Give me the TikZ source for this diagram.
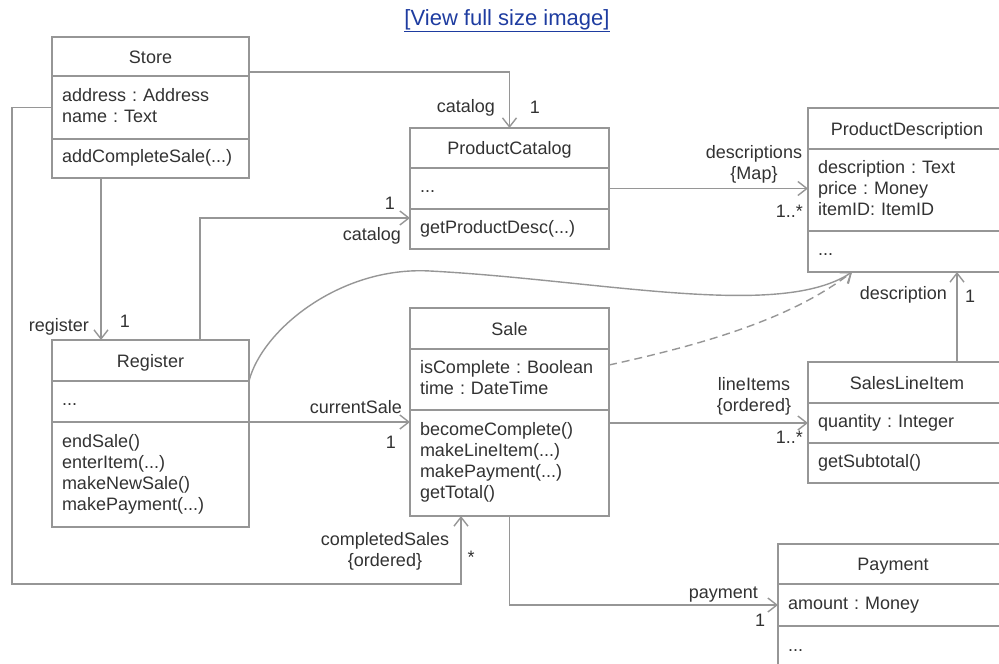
\documentclass[tikz,border=0pt]{standalone}
\usepackage{fontspec}
\setmainfont{Liberation Sans}
\usepackage{xcolor}
\usepackage{tikz}
\usetikzlibrary{arrows.meta, calc}

\definecolor{linegray}{RGB}{150,150,150}
\definecolor{inkgray}{RGB}{50,50,50}
\definecolor{linkblue}{RGB}{30,60,160}
\newcommand{\umlfont}{\fontsize{18}{21}\selectfont}
\frenchspacing

\begin{document}
\begin{tikzpicture}[
    x=1pt, y=-1pt,
    clsname/.style={draw=linegray, line width=1.4pt, outer sep=0pt, anchor=north west, minimum width=197pt, minimum height=40pt, inner xsep=10pt, inner ysep=0pt, text height=13pt, text depth=0pt, font=\umlfont, text=inkgray},
    clsbody/.style={draw=linegray, line width=1.4pt, outer sep=0pt, anchor=north west, text width=177pt, inner xsep=10pt, inner ysep=0pt, align=left, font=\umlfont, text=inkgray, execute at begin node=\strut, execute at end node=\strut},
    assoc/.style={-{Straight Barb[length=9pt,width=14pt]}, line width=1.4pt, linegray},
    depline/.style={assoc, dash pattern=on 8pt off 5pt},
    lbl/.style={font=\umlfont, text=inkgray, inner sep=0pt, align=center}
]
\useasboundingbox (0,0) rectangle (999,664);
\clip (0,0) rectangle (999,664);

\node[font=\fontsize{22}{26}\selectfont, text=linkblue, inner sep=0pt] (viewlink) at (507,21) {\underline{[View full size image]}};

% classes
\node[clsname, minimum height=39pt] (store) at (52,37) {Store};
\node[clsbody, minimum height=63pt] (store-a) at (store.south west) {address : Address\\name : Text};
\node[clsbody, minimum height=39pt] (store-m) at (store-a.south west) {addCompleteSale(...)};

\node[clsname, minimum height=41pt] (reg) at (52,340) {Register};
\node[clsbody, minimum height=41pt] (reg-a) at (reg.south west) {...};
\node[clsbody, minimum height=105pt] (reg-m) at (reg-a.south west) {endSale()\\enterItem(...)\\makeNewSale()\\makePayment(...)};

\node[clsname, minimum width=199pt] (pc) at (410,128) {ProductCatalog};
\node[clsbody, text width=179pt, minimum height=41pt] (pc-a) at (pc.south west) {...};
\node[clsbody, text width=179pt, minimum height=40pt] (pc-m) at (pc-a.south west) {getProductDesc(...)};

\node[clsname, minimum width=199pt, minimum height=41pt] (sale) at (410,308) {Sale};
\node[clsbody, text width=179pt, minimum height=61pt] (sale-a) at (sale.south west) {isComplete : Boolean\\time : DateTime};
\node[clsbody, text width=179pt, minimum height=106pt] (sale-m) at (sale-a.south west) {becomeComplete()\\makeLineItem(...)\\makePayment(...)\\getTotal()};

\node[clsname, minimum width=198pt, minimum height=41pt] (pd) at (808,108) {ProductDescription};
\node[clsbody, text width=178pt, minimum height=82pt] (pd-a) at (pd.south west) {description : Text\\price : Money\\itemID: ItemID};
\node[clsbody, text width=178pt, minimum height=41pt] (pd-m) at (pd-a.south west) {...};

\node[clsname, minimum width=198pt, minimum height=41pt] (sli) at (808,362) {SalesLineItem};
\node[clsbody, text width=178pt, minimum height=40pt] (sli-a) at (sli.south west) {quantity : Integer};
\node[clsbody, text width=178pt, minimum height=40pt] (sli-m) at (sli-a.south west) {getSubtotal()};

\node[clsname, minimum width=230pt] (pay) at (778,544) {Payment};
\node[clsbody, text width=210pt, minimum height=42pt] (pay-a) at (pay.south west) {amount : Money};
\node[clsbody, text width=210pt, minimum height=42pt] (pay-m) at (pay-a.south west) {...};

% associations
\draw[assoc] ([yshift=-15.5pt]store.east) -| (pc.north);
\draw[assoc] (store-a.west) -| (12,584) -| ([xshift=-48.5pt]sale-m.south);
\draw[assoc] ([xshift=-49.5pt]store-m.south) -- ([xshift=-49.5pt]reg.north);
\draw[assoc] ([xshift=49.5pt]reg.north) |- ([yshift=11pt]pc-m.west);
\draw[assoc] (reg.south east) .. controls (262,330) and (340,266) .. (430,271)
    .. controls (600,280) and (780,320) .. ([xshift=-55pt]pd-m.south);
\draw[depline] ([yshift=14.5pt]sale-a.east) .. controls (700,345) and (790,320) .. ([xshift=-55pt]pd-m.south);
\draw[assoc] (pc-a.east) -- (pc-a.east -| pd-a.west);
\draw[assoc] ([xshift=50pt]sli.north) -- ([xshift=50pt]pd-m.south);
\draw[assoc] (sli-a.west -| sale-m.east) -- (sli-a.west);
\draw[assoc] (reg-a.south east) -- (reg-a.south east -| sale-m.west);
\draw[assoc] (sale-m.south) |- (pay-a.west);

% role names and multiplicities
\node[lbl, anchor=east] (l-cat1) at (495,108) {catalog};
\node[lbl] (l-one1) at (535,107) {1};
\node[lbl, anchor=east] (l-cat2) at (401,236) {catalog};
\node[lbl] (l-one2) at (390,203) {1};
\node[lbl] (l-desc) at (754,164.5) {descriptions\\\{Map\}};
\node[lbl, anchor=east] (l-many1) at (803,211) {1..*};
\node[lbl, anchor=east] (l-reg) at (89,327) {register};
\node[lbl] (l-one3) at (125,321) {1};
\node[lbl, anchor=east] (l-cur) at (402,407) {currentSale};
\node[lbl] (l-one4) at (391,442) {1};
\node[lbl] (l-comp) at (385,551) {completedSales\\\{ordered\}};
\node[lbl] (l-star) at (471,557) {*};
\node[lbl, anchor=east] (l-pdesc) at (947,295) {description};
\node[lbl] (l-one5) at (970,296) {1};
\node[lbl] (l-items) at (754,396.5) {lineItems\\\{ordered\}};
\node[lbl, anchor=east] (l-many2) at (803,437) {1..*};
\node[lbl, anchor=east] (l-pay) at (758,595) {payment};
\node[lbl] (l-one6) at (760,620) {1};

\end{tikzpicture}
\end{document}
